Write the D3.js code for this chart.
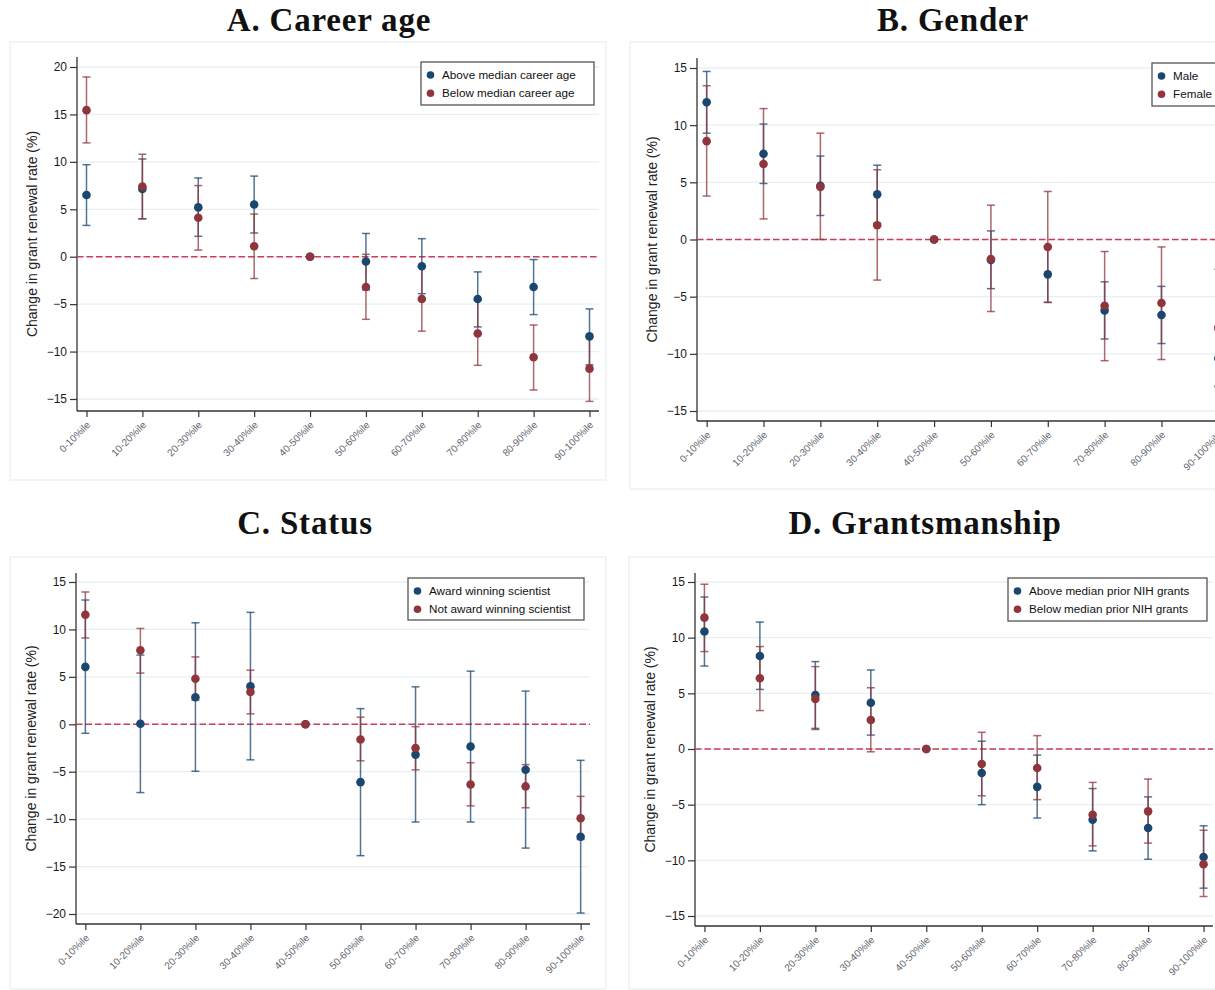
<!DOCTYPE html>
<html>
<head>
<meta charset="utf-8">
<script src="https://cdn.jsdelivr.net/npm/d3@7"></script>
<style>
  body { margin: 0; padding: 0; background: #fff; overflow: hidden; }
  svg { display: block; }
</style>
</head>
<body>
<div id="main"></div>
<script>
const categories = ['0-10%ile', '10-20%ile', '20-30%ile', '30-40%ile', '40-50%ile',
    '50-60%ile', '60-70%ile', '70-80%ile', '80-90%ile', '90-100%ile'];

// each entry: [estimate, lower CI, upper CI]
const careerAbove = [[6.5, 3.3, 9.7], [7.15, 4.0, 10.3], [5.2, 2.15, 8.3], [5.5, 2.5, 8.5], [0, 0, 0],
    [-0.5, -3.5, 2.45], [-1.0, -3.9, 1.9], [-4.45, -7.4, -1.6], [-3.2, -6.1, -0.3], [-8.4, -11.4, -5.5]];
const careerBelow = [[15.45, 12.0, 18.95], [7.4, 4.0, 10.8], [4.1, 0.7, 7.5], [1.1, -2.3, 4.5], [0, 0, 0],
    [-3.2, -6.6, 0.25], [-4.45, -7.85, -1.05], [-8.1, -11.45, -4.55], [-10.6, -14.05, -7.2], [-11.8, -15.25, -8.4]];

const genderMale = [[12.0, 9.3, 14.7], [7.5, 4.9, 10.1], [4.7, 2.1, 7.3], [3.95, 1.4, 6.5], [0, 0, 0],
    [-1.8, -4.3, 0.75], [-3.05, -5.5, -0.6], [-6.2, -8.7, -3.7], [-6.6, -9.1, -4.1], [-10.4, -12.9, -7.9]];
const genderFemale = [[8.6, 3.8, 13.45], [6.6, 1.8, 11.45], [4.6, 0.0, 9.3], [1.25, -3.55, 6.1], [0, 0, 0],
    [-1.7, -6.3, 3.0], [-0.65, -5.5, 4.2], [-5.8, -10.6, -1.05], [-5.55, -10.5, -0.65], [-7.7, -12.8, -2.6]];

const statusAward = [[6.05, -0.95, 13.1], [0.05, -7.2, 7.3], [2.85, -4.95, 10.7], [4.0, -3.75, 11.8], [0, 0, 0],
    [-6.1, -13.85, 1.65], [-3.2, -10.3, 3.95], [-2.35, -10.3, 5.6], [-4.8, -13.05, 3.5], [-11.85, -19.9, -3.8]];
const statusNoAward = [[11.55, 9.1, 13.95], [7.8, 5.4, 10.1], [4.8, 2.55, 7.1], [3.4, 1.1, 5.7], [0, 0, 0],
    [-1.6, -3.85, 0.75], [-2.5, -4.8, -0.25], [-6.35, -8.6, -4.05], [-6.55, -8.8, -4.25], [-9.9, -12.15, -7.6]];

const grantsAbove = [[10.55, 7.45, 13.65], [8.35, 5.35, 11.4], [4.85, 1.85, 7.85], [4.15, 1.25, 7.1], [0, 0, 0],
    [-2.15, -5.0, 0.7], [-3.4, -6.2, -0.55], [-6.35, -9.15, -3.55], [-7.1, -9.9, -4.3], [-9.7, -12.5, -6.9]];
const grantsBelow = [[11.8, 8.75, 14.8], [6.35, 3.45, 9.2], [4.5, 1.75, 7.4], [2.6, -0.25, 5.5], [0, 0, 0],
    [-1.35, -4.2, 1.5], [-1.7, -4.55, 1.2], [-5.9, -8.7, -3.0], [-5.6, -8.45, -2.7], [-10.35, -13.25, -7.3]];

const ticksA = [-15, -10, -5, 0, 5, 10, 15, 20];
const ticksB = [-15, -10, -5, 0, 5, 10, 15];
const ticksC = [-20, -15, -10, -5, 0, 5, 10, 15];
const ticksD = [-15, -10, -5, 0, 5, 10, 15];

const BLUE = '#1a476f';
const RED = '#90353b';
const YTITLE = 'Change in grant renewal rate (%)';

const panels = [
    {
        title: 'A. Career age', ticks: ticksA,
        series: [{name: 'Above median career age', data: careerAbove, color: BLUE},
                 {name: 'Below median career age', data: careerBelow, color: RED}],
        box: [10, 42, 596, 438], titleX: 329, titleY: 31,
        left: 77, right: 599, top: 57, bottom: 411, yPx: [399, 67],
        legend: [421, 62, 173, 43]
    },
    {
        title: 'B. Gender', ticks: ticksB,
        series: [{name: 'Male', data: genderMale, color: BLUE},
                 {name: 'Female', data: genderFemale, color: RED}],
        box: [630, 42, 600, 447], titleX: 953, titleY: 31,
        left: 697, right: 1228, top: 58, bottom: 421, yPx: [411, 68],
        legend: [1152, 63, 78, 43]
    },
    {
        title: 'C. Status', ticks: ticksC,
        series: [{name: 'Award winning scientist', data: statusAward, color: BLUE},
                 {name: 'Not award winning scientist', data: statusNoAward, color: RED}],
        box: [10, 557, 596, 432], titleX: 305, titleY: 534,
        left: 76, right: 590, top: 573, bottom: 924, yPx: [914, 582],
        legend: [408, 578, 176, 42]
    },
    {
        title: 'D. Grantsmanship', ticks: ticksD,
        series: [{name: 'Above median prior NIH grants', data: grantsAbove, color: BLUE},
                 {name: 'Below median prior NIH grants', data: grantsBelow, color: RED}],
        box: [629, 557, 600, 432], titleX: 925, titleY: 534,
        left: 695, right: 1213, top: 573, bottom: 926, yPx: [916, 582],
        legend: [1008, 578, 199, 43]
    }
];

const svg = d3.select('#main').append('svg')
    .attr('width', 1215)
    .attr('height', 990);

const drawPanel = (p) => {
    const g = svg.append('g');
    const [bx, by, bw, bh] = p.box;
    g.append('rect')
        .attr('x', bx).attr('y', by).attr('width', bw).attr('height', bh)
        .attr('fill', '#fff').attr('stroke', '#eef2f2').attr('stroke-width', 1.5);

    g.append('text')
        .attr('x', p.titleX).attr('y', p.titleY)
        .attr('text-anchor', 'middle')
        .attr('font-family', '"Liberation Serif", "DejaVu Serif", serif')
        .attr('font-weight', 'bold')
        .attr('font-size', 33)
        .attr('letter-spacing', 0.8)
        .attr('fill', '#111')
        .text(p.title);

    const x = d3.scalePoint().domain(categories).range([p.left, p.right]).padding(0.17);
    const y = d3.scaleLinear().domain(d3.extent(p.ticks)).range(p.yPx);

    // gridlines
    g.append('g').selectAll('line').data(p.ticks).enter().append('line')
        .attr('x1', p.left).attr('x2', p.right)
        .attr('y1', (d) => y(d)).attr('y2', (d) => y(d))
        .attr('stroke', '#e8f0f2').attr('stroke-width', 1.3);

    // y axis
    const axisY = d3.axisLeft(y).tickValues(p.ticks).tickSize(7).tickPadding(3).tickSizeOuter(0);
    const gy = g.append('g').attr('transform', `translate(${p.left},0)`).call(axisY);
    gy.select('.domain').remove();
    gy.append('line')
        .attr('x1', 0).attr('x2', 0).attr('y1', p.top).attr('y2', p.bottom)
        .attr('stroke', '#333').attr('stroke-width', 1.3);
    gy.selectAll('.tick line').attr('stroke', '#333').attr('stroke-width', 1.2);
    gy.selectAll('.tick text')
        .attr('font-family', '"Liberation Sans", Arial, sans-serif')
        .attr('font-size', 12).attr('fill', '#1a1a1a');

    // x axis
    const axisX = d3.axisBottom(x).tickSize(6).tickSizeOuter(0);
    const gx = g.append('g').attr('transform', `translate(0,${p.bottom})`).call(axisX);
    gx.select('.domain').remove();
    gx.append('line')
        .attr('x1', p.left).attr('x2', p.right).attr('y1', 0).attr('y2', 0)
        .attr('stroke', '#333').attr('stroke-width', 1.3);
    gx.selectAll('.tick line').attr('stroke', '#333').attr('stroke-width', 1.2);
    gx.selectAll('.tick text')
        .attr('font-family', '"Liberation Sans", Arial, sans-serif')
        .attr('font-size', 10).attr('fill', '#5f6670')
        .attr('text-anchor', 'end')
        .attr('y', 0).attr('dy', 0)
        .attr('transform', 'translate(4,14.5) rotate(-45)');

    // y axis title
    g.append('text')
        .attr('transform', `translate(${p.left - 40},${(p.top + p.bottom) / 2}) rotate(-90)`)
        .attr('text-anchor', 'middle')
        .attr('font-family', '"Liberation Sans", Arial, sans-serif')
        .attr('font-size', 14).attr('fill', '#222')
        .text(YTITLE);

    // zero reference line
    g.append('line')
        .attr('x1', p.left).attr('x2', p.right)
        .attr('y1', y(0)).attr('y2', y(0))
        .attr('stroke', '#cc3d5a').attr('stroke-width', 1.4)
        .attr('stroke-dasharray', '6.5,3');

    // confidence intervals
    p.series.forEach((s) => {
        const ci = g.append('g')
            .attr('stroke', s.color).attr('stroke-opacity', 0.75).attr('stroke-width', 1.5);
        const rows = s.data.map((d, i) => ({cat: categories[i], est: d[0], lo: d[1], hi: d[2]}))
            .filter((d) => d.hi > d.lo);
        ci.selectAll('.bar').data(rows).enter().append('line')
            .attr('x1', (d) => x(d.cat)).attr('x2', (d) => x(d.cat))
            .attr('y1', (d) => y(d.lo)).attr('y2', (d) => y(d.hi));
        ci.selectAll('.caplo').data(rows).enter().append('line')
            .attr('x1', (d) => x(d.cat) - 4).attr('x2', (d) => x(d.cat) + 4)
            .attr('y1', (d) => y(d.lo)).attr('y2', (d) => y(d.lo));
        ci.selectAll('.caphi').data(rows).enter().append('line')
            .attr('x1', (d) => x(d.cat) - 4).attr('x2', (d) => x(d.cat) + 4)
            .attr('y1', (d) => y(d.hi)).attr('y2', (d) => y(d.hi));
    });

    // point estimates
    p.series.forEach((s) => {
        g.append('g').selectAll('circle').data(s.data).enter().append('circle')
            .attr('cx', (d, i) => x(categories[i]))
            .attr('cy', (d) => y(d[0]))
            .attr('r', 4.3)
            .attr('fill', s.color);
    });

    // legend
    const [lx, ly, lw, lh] = p.legend;
    const lg = g.append('g');
    lg.append('rect')
        .attr('x', lx).attr('y', ly).attr('width', lw).attr('height', lh)
        .attr('fill', '#fff').attr('stroke', '#555').attr('stroke-width', 1.3);
    p.series.forEach((s, i) => {
        const ry = ly + 13 + i * 18.3;
        lg.append('circle').attr('cx', lx + 9.5).attr('cy', ry).attr('r', 3.8).attr('fill', s.color);
        lg.append('text')
            .attr('x', lx + 21).attr('y', ry + 4)
            .attr('font-family', '"Liberation Sans", Arial, sans-serif')
            .attr('font-size', 11.7).attr('fill', '#111')
            .text(s.name);
    });
};

panels.forEach(drawPanel);
</script>
</body>
</html>
